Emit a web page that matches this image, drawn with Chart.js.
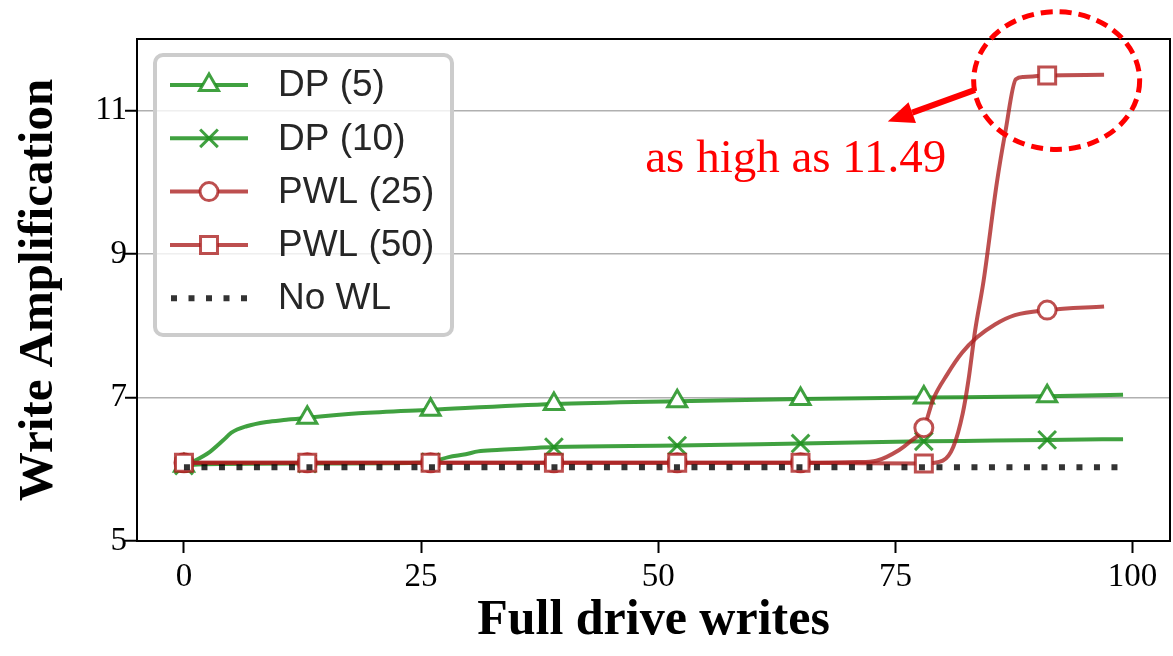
<!DOCTYPE html>
<html>
<head>
<meta charset="utf-8">
<script src="https://cdn.jsdelivr.net/npm/chart.js@4.4.0/dist/chart.umd.min.js"></script>
<style>
  html, body { margin: 0; padding: 0; background: #fff; }
</style>
</head>
<body>
<canvas id="chart" width="1173" height="656"></canvas>
<script>
// ---- data ----
const MARK_X = [0, 13, 26, 39, 52, 65, 78, 91];
const X_TICKS = [0, 25, 50, 75, 100];
const Y_TICKS = [5, 7, 9, 11];

const dp5X = [0, 1, 2.7, 4.1, 5, 6.6, 8.7, 10.8, 13, 18.4, 26, 39, 52, 65, 78, 91, 99];
const dp5Y = [6.05, 6.11, 6.24, 6.40, 6.51, 6.60, 6.66, 6.69, 6.72, 6.78, 6.83, 6.91, 6.95, 6.98, 7.00, 7.02, 7.04];

const dp10X = [0, 2, 13, 24.7, 26, 27.9, 29.7, 31, 33, 36, 39, 52, 65, 78, 85.5, 91, 99];
const dp10Y = [6.05, 6.07, 6.08, 6.09, 6.10, 6.17, 6.21, 6.25, 6.27, 6.29, 6.31, 6.33, 6.36, 6.39, 6.40, 6.41, 6.42];

const pwl25X = [0, 13, 26, 39, 52, 65, 71, 73, 75.4, 76.5, 78, 79, 80.5, 82, 83.6, 85.5, 87.6, 91, 97];
const pwl25Y = [6.09, 6.09, 6.09, 6.09, 6.09, 6.09, 6.10, 6.12, 6.27, 6.38, 6.58, 6.98, 7.33, 7.62, 7.84, 8.02, 8.15, 8.22, 8.27];

const pwl50X = [0, 13, 26, 39, 52, 65, 78, 80, 81.1, 82.1, 82.7, 83.4, 84.3, 85.7, 86.6, 87.7, 88.5, 91, 97];
const pwl50Y = [6.09, 6.09, 6.09, 6.09, 6.09, 6.09, 6.08, 6.12, 6.31, 6.78, 7.24, 7.93, 8.63, 10.0, 10.71, 11.44, 11.47, 11.49, 11.50];

const noWlX = [0, 99];
const noWlY = [6.03, 6.03];

const LABELS = ["DP (5)", "DP (10)", "PWL (25)", "PWL (50)", "No WL"];
const NOTE_TEXT = "as high as 11.49";

// ---- styles ----
const GREEN = "rgba(30,145,30,0.85)";
const RED = "rgba(170,30,30,0.78)";
const DOTS = "rgba(0,0,0,0.8)";
const SERIF = "'Liberation Serif', 'Times New Roman', serif";
const SANS = "'Liberation Sans', Arial, sans-serif";

const zip = (xs, ys) => xs.map((x, i) => ({ x: x, y: ys[i] }));
const markRadius = (r) => (ctx) => (ctx.raw && MARK_X.includes(ctx.raw.x) ? r : 0);

function seriesDataset(label, xs, ys, color, style, r, order) {
    return {
        label: label,
        data: zip(xs, ys),
        borderColor: color,
        borderWidth: 4,
        pointStyle: style,
        pointRadius: markRadius(r),
        pointBorderColor: color,
        pointBackgroundColor: "#fff",
        pointBorderWidth: 3,
        pointHoverRadius: 0,
        cubicInterpolationMode: "monotone",
        fill: false,
        order: order,
        legendRadius: r
    };
}

const datasets = [
    seriesDataset(LABELS[0], dp5X, dp5Y, GREEN, "triangle", 11, 5),
    seriesDataset(LABELS[1], dp10X, dp10Y, GREEN, "crossRot", 12.5, 4),
    seriesDataset(LABELS[2], pwl25X, pwl25Y, RED, "circle", 9, 3),
    seriesDataset(LABELS[3], pwl50X, pwl50Y, RED, "rect", 12, 2),
    {
        label: LABELS[4],
        data: zip(noWlX, noWlY),
        borderColor: DOTS,
        borderWidth: 6,
        borderDash: [6, 11.5],
        borderCapStyle: "butt",
        pointRadius: 0,
        pointHoverRadius: 0,
        fill: false,
        order: 1
    }
];

// ---- plugins ----
// top + right spines (left/bottom come from the scales)
const frame = {
    id: "frame",
    afterDatasetsDraw(chart) {
        const { ctx, chartArea: a } = chart;
        ctx.save();
        ctx.strokeStyle = "#000";
        ctx.lineWidth = 2;
        ctx.strokeRect(a.left, a.top, a.right - a.left, a.bottom - a.top);
        ctx.restore();
    }
};

// matplotlib-style legend inside the axes, upper left
const legendBox = {
    id: "legendBox",
    afterDatasetsDraw(chart) {
        const ctx = chart.ctx;
        const left = 155, top = 55, w = 297, h = 280, rowH = 53.3;
        ctx.save();
        ctx.fillStyle = "rgba(255,255,255,0.8)";
        ctx.strokeStyle = "#cccccc";
        ctx.lineWidth = 4;
        ctx.beginPath();
        ctx.roundRect(left, top, w, h, 8);
        ctx.fill();
        ctx.stroke();

        chart.data.datasets.forEach((ds, i) => {
            const cy = top + 30 + i * rowH;
            ctx.strokeStyle = ds.borderColor;
            ctx.lineWidth = ds.borderWidth;
            ctx.setLineDash(ds.borderDash || []);
            ctx.lineCap = "butt";
            ctx.beginPath();
            if (ds.borderDash) {
                ctx.moveTo(171, cy);
                ctx.lineTo(250, cy);
            } else {
                ctx.moveTo(170, cy);
                ctx.lineTo(248, cy);
            }
            ctx.stroke();
            ctx.setLineDash([]);
            if (ds.pointStyle) {
                ctx.lineWidth = ds.pointBorderWidth;
                ctx.strokeStyle = ds.pointBorderColor;
                ctx.fillStyle = "#fff";
                Chart.helpers.drawPoint(ctx, {
                    pointStyle: ds.pointStyle,
                    radius: ds.legendRadius,
                    borderWidth: ds.pointBorderWidth,
                    rotation: 0
                }, 209, cy);
            }
            ctx.fillStyle = "#262626";
            ctx.font = "37px " + SANS;
            ctx.textAlign = "left";
            ctx.textBaseline = "middle";
            ctx.fillText(ds.label, 278, cy + 1);
        });
        ctx.restore();
    }
};

// red dashed ellipse + arrow + note (data coordinates)
const NOTE_ELLIPSE = { cx: 92.0, cy: 11.42, rx: 8.75, ry: 0.96 };
const NOTE_ARROW = { x0: 83.4, y0: 11.29, x1: 74.2, y1: 10.85 };
const NOTE_POS = { x: 64.5, y: 10.14 };

const annotation = {
    id: "annotation",
    afterDraw(chart) {
        const { ctx, scales: { x, y } } = chart;
        const px = (v) => x.getPixelForValue(v);
        const py = (v) => y.getPixelForValue(v);
        ctx.save();
        ctx.strokeStyle = "#ff0000";
        ctx.fillStyle = "#ff0000";

        // ellipse
        ctx.lineWidth = 5;
        ctx.setLineDash([12, 7]);
        ctx.beginPath();
        ctx.ellipse(px(NOTE_ELLIPSE.cx), py(NOTE_ELLIPSE.cy),
            px(NOTE_ELLIPSE.cx + NOTE_ELLIPSE.rx) - px(NOTE_ELLIPSE.cx),
            py(NOTE_ELLIPSE.cy) - py(NOTE_ELLIPSE.cy + NOTE_ELLIPSE.ry),
            0, 0, Math.PI * 2);
        ctx.stroke();
        ctx.setLineDash([]);

        // arrow
        const ax0 = px(NOTE_ARROW.x0), ay0 = py(NOTE_ARROW.y0);
        const ax1 = px(NOTE_ARROW.x1), ay1 = py(NOTE_ARROW.y1);
        const ang = Math.atan2(ay1 - ay0, ax1 - ax0);
        const headLen = 26, headHalf = 11;
        const bx = ax1 - headLen * Math.cos(ang), by = ay1 - headLen * Math.sin(ang);
        ctx.lineWidth = 6;
        ctx.beginPath();
        ctx.moveTo(ax0, ay0);
        ctx.lineTo(bx, by);
        ctx.stroke();
        ctx.beginPath();
        ctx.moveTo(ax1, ay1);
        ctx.lineTo(bx + headHalf * Math.sin(ang), by - headHalf * Math.cos(ang));
        ctx.lineTo(bx - headHalf * Math.sin(ang), by + headHalf * Math.cos(ang));
        ctx.closePath();
        ctx.fill();

        // note
        ctx.font = "47px " + SERIF;
        ctx.textAlign = "center";
        ctx.textBaseline = "alphabetic";
        ctx.fillText(NOTE_TEXT, px(NOTE_POS.x), py(NOTE_POS.y));
        ctx.restore();
    }
};

new Chart(document.getElementById("chart"), {
    type: "line",
    data: { datasets: datasets },
    plugins: [frame, legendBox, annotation],
    options: {
        responsive: false,
        animation: false,
        events: [],
        layout: { autoPadding: false, padding: { top: 39, right: 3, left: 0, bottom: 0 } },
        plugins: {
            legend: { display: false },
            tooltip: { enabled: false }
        },
        scales: {
            x: {
                type: "linear",
                min: -4.95,
                max: 103.95,
                afterBuildTicks: (s) => { s.ticks = X_TICKS.map(v => ({ value: v })); },
                afterFit: (s) => { s.height = 115; s.paddingLeft = 0; s.paddingRight = 0; },
                grid: {
                    drawOnChartArea: false,
                    drawTicks: true,
                    tickLength: 12,
                    tickColor: "#000",
                    tickWidth: 2
                },
                border: { display: true, color: "#000", width: 2 },
                ticks: {
                    color: "#000",
                    font: { family: SERIF, size: 33 },
                    padding: 5,
                    maxRotation: 0,
                    autoSkip: false
                },
                title: {
                    display: true,
                    text: "Full drive writes",
                    color: "#000",
                    font: { family: SERIF, size: 50, weight: "bold" },
                    padding: { top: 0, bottom: 5 }
                }
            },
            y: {
                min: 5,
                max: 12,
                afterBuildTicks: (s) => { s.ticks = Y_TICKS.map(v => ({ value: v })); },
                afterFit: (s) => { s.width = 137; s.paddingTop = 0; s.paddingBottom = 0; },
                grid: {
                    color: "#b0b0b0",
                    lineWidth: 1.5,
                    drawTicks: true,
                    tickLength: 12,
                    tickColor: "#000",
                    tickWidth: 2
                },
                border: { display: true, color: "#000", width: 2 },
                ticks: {
                    color: "#000",
                    font: { family: SERIF, size: 33 },
                    padding: -2
                },
                title: {
                    display: true,
                    text: "Write Amplification",
                    color: "#000",
                    font: { family: SERIF, size: 49, weight: "bold" },
                    padding: { top: 10, bottom: 0 }
                }
            }
        }
    }
});
</script>
</body>
</html>
